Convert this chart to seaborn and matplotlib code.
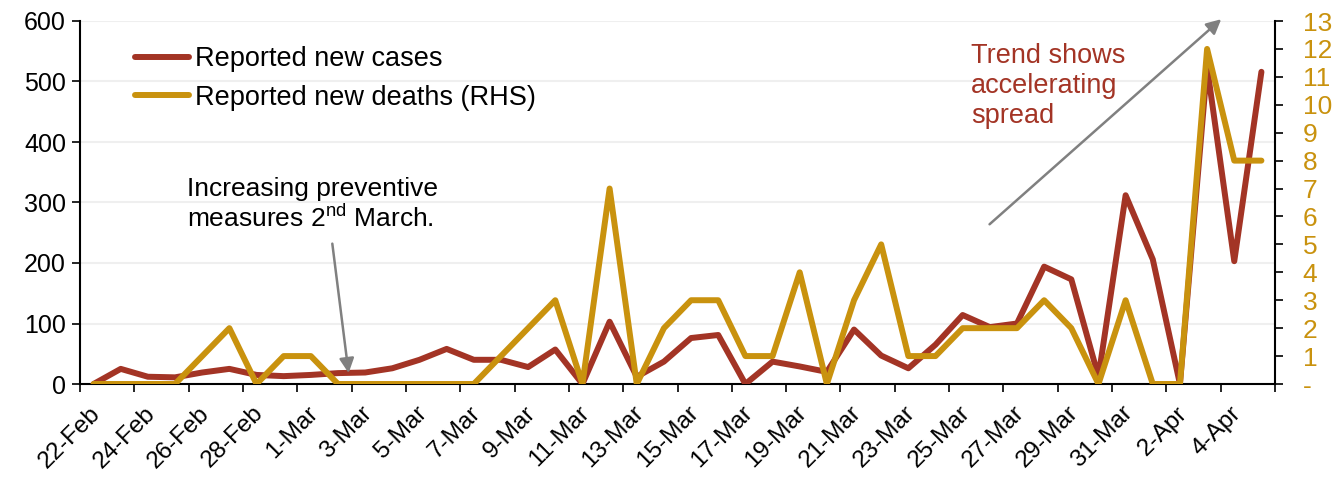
import numpy as np
import pandas as pd
import matplotlib
matplotlib.use("Agg")
import matplotlib.pyplot as plt
import matplotlib.transforms as mtransforms
import seaborn as sns

# ---- data ----
dates = ["22-Feb", "23-Feb", "24-Feb", "25-Feb", "26-Feb", "27-Feb", "28-Feb", "29-Feb",
         "1-Mar", "2-Mar", "3-Mar", "4-Mar", "5-Mar", "6-Mar", "7-Mar", "8-Mar", "9-Mar",
         "10-Mar", "11-Mar", "12-Mar", "13-Mar", "14-Mar", "15-Mar", "16-Mar", "17-Mar",
         "18-Mar", "19-Mar", "20-Mar", "21-Mar", "22-Mar", "23-Mar", "24-Mar", "25-Mar",
         "26-Mar", "27-Mar", "28-Mar", "29-Mar", "30-Mar", "31-Mar", "1-Apr", "2-Apr",
         "3-Apr", "4-Apr", "5-Apr"]
new_cases = [0, 25, 12, 11, 19, 25, 15, 13, 15, 18, 19, 26, 40, 58, 40, 40, 28,
             57, 0, 103, 12, 37, 76, 81, 0, 37, 29, 20, 90, 47, 26, 65, 114,
             94, 100, 194, 173, 12, 312, 206, 0, 524, 203, 516]
new_deaths = [0, 0, 0, 0, 1, 2, 0, 1, 1, 0, 0, 0, 0, 0, 0, 1, 2,
              3, 0, 7, 0, 2, 3, 3, 1, 1, 4, 0, 3, 5, 1, 1, 2,
              2, 2, 3, 2, 0, 3, 0, 0, 12, 8, 8]
label_every = 2
cases_label = "Reported new cases"
deaths_label = "Reported new deaths (RHS)"

RED = "#A33425"
GOLD = "#C9920E"

df = pd.DataFrame({"pos": np.arange(len(dates)), "date": dates,
                   "cases": new_cases, "deaths": new_deaths})

sns.set_theme(style="white")
plt.rcParams["font.family"] = ["Liberation Sans", "DejaVu Sans"]
plt.rcParams["mathtext.fontset"] = "custom"
plt.rcParams["mathtext.rm"] = "Liberation Sans"
for k in ("text.color", "axes.labelcolor", "xtick.color", "ytick.color"):
    plt.rcParams[k] = "black"

fig = plt.figure(figsize=(13.4, 4.79), dpi=100)
ax = fig.add_axes([80/1340, 1-384/479, 1195/1340, 363/479])
ax2 = ax.twinx()

sns.lineplot(data=df, x="pos", y="cases", ax=ax, color=RED, lw=4.3,
             label=cases_label, legend=False, zorder=3)
sns.lineplot(data=df, x="pos", y="deaths", ax=ax2, color=GOLD, lw=4.3,
             label=deaths_label, legend=False, zorder=3)

n = len(dates)
ax.set_xlim(-0.5, n - 0.5)
ax.set_ylim(0, 600)
ax2.set_ylim(0, 13)

# x axis: boundaries as ticks, labels at category centres
ax.set_xticks(np.arange(-0.5, n, label_every))
ax.set_xticklabels([])
ax.set_xticks(np.arange(0, n, label_every), minor=True)
ax.set_xticklabels(dates[::label_every], minor=True, rotation=45, ha="right",
                   va="top", rotation_mode="anchor", fontsize=17.5, color="black")
ax.tick_params(axis="x", which="major", direction="out", length=6, width=1.2,
               color="black", bottom=True)
ax.tick_params(axis="x", which="minor", length=0, pad=13)
shift = mtransforms.ScaledTranslation(-4 / 100, 0, fig.dpi_scale_trans)
for lbl in ax.get_xticklabels(minor=True):
    lbl.set_transform(lbl.get_transform() + shift)

ax.set_yticks(np.arange(0, 601, 100))
ax.tick_params(axis="y", direction="out", length=6, width=1.2, color="black",
               left=True, labelsize=18, labelcolor="black", pad=4)
ax2.set_yticks(np.arange(0, 14, 1))
ax2.set_yticklabels(["-"] + [str(v) for v in range(1, 14)])
ax2.tick_params(axis="y", direction="out", length=6, width=1.2, color="black",
                right=True, labelsize=19, labelcolor=GOLD, pad=14)

ax.yaxis.grid(True, color="#EFEFEF", lw=1.5)
ax.set_axisbelow(True)
ax.set_xlabel("")
ax.set_ylabel("")
ax2.set_ylabel("")

for a in (ax, ax2):
    a.spines["top"].set_visible(False)
    for s in ("left", "right", "bottom"):
        a.spines[s].set_color("black")
        a.spines[s].set_linewidth(1.5)
ax.spines["right"].set_visible(False)
ax2.spines["left"].set_visible(False)
ax2.spines["bottom"].set_visible(False)

# legend
h1, l1 = ax.get_legend_handles_labels()
h2, l2 = ax2.get_legend_handles_labels()
leg = ax2.legend(h1 + h2, l1 + l2, loc="upper left", bbox_to_anchor=(0.046, 0.93),
                 frameon=False, fontsize=19.5, handlelength=2.0, handletextpad=0.2,
                 labelspacing=0.45, borderpad=0, borderaxespad=0)
for t in leg.get_texts():
    t.set_color("black")

# annotations
ax.text(3.43, 342, "Increasing preventive\nmeasures 2$^{\\mathrm{nd}}$ March.",
        fontsize=19, color="black", ha="left", va="top", linespacing=1.15)
ax.annotate("", xy=(9.39, 18), xytext=(8.79, 232),
            arrowprops=dict(arrowstyle="-|>", color="#808080", lw=1.8,
                            mutation_scale=22, shrinkA=0, shrinkB=0))
ax.text(32.3, 563, "Trend shows\naccelerating\nspread", fontsize=19.5, color=RED,
        ha="left", va="top", linespacing=1.2)
ax.annotate("", xy=(41.52, 603), xytext=(32.99, 264),
            arrowprops=dict(arrowstyle="-|>", color="#808080", lw=1.8,
                            mutation_scale=22, shrinkA=0, shrinkB=0),
            annotation_clip=False)

fig.savefig("out.png", dpi=100)
